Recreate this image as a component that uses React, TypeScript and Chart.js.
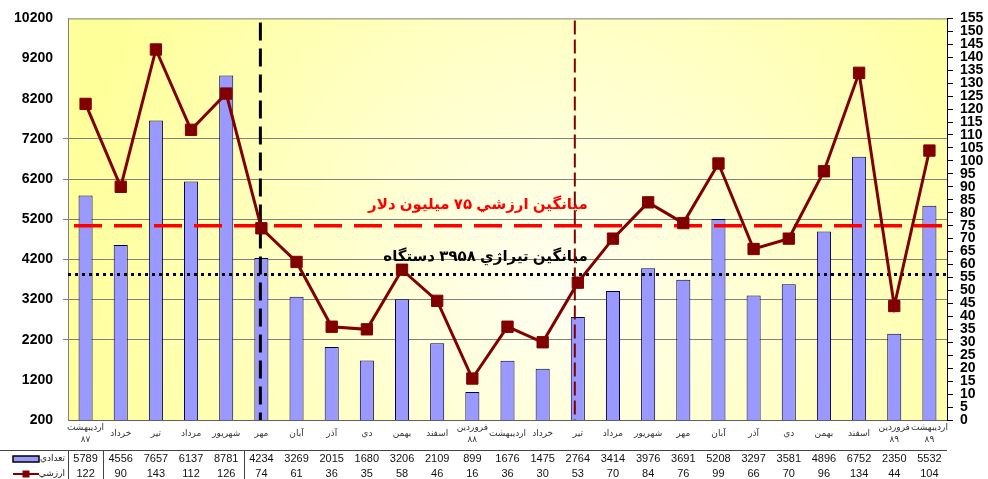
import React, { useEffect, useRef } from "react";
import { Chart, registerables } from "chart.js";
Chart.register(...registerables);

const monthLabels: (string | string[])[] = [
  ["اردیبهشت", "۸۷"], "خرداد", "تیر", "مرداد", "شهریور", "مهر", "آبان", "آذر", "دي", "بهمن", "اسفند",
  ["فروردین", "۸۸"], "اردیبهشت", "خرداد", "تیر", "مرداد", "شهریور", "مهر", "آبان", "آذر", "دي", "بهمن", "اسفند",
  ["فروردین", "۸۹"], ["اردیبهشت", "۸۹"],
];
const countValues = [5789, 4556, 7657, 6137, 8781, 4234, 3269, 2015, 1680, 3206, 2109, 899, 1676, 1475, 2764, 3414, 3976, 3691, 5208, 3297, 3581, 4896, 6752, 2350, 5532];
const valueValues = [122, 90, 143, 112, 126, 74, 61, 36, 35, 58, 46, 16, 36, 30, 53, 70, 84, 76, 99, 66, 70, 96, 134, 44, 104];
const countSeriesName = "تعدادي";
const valueSeriesName = "ارزشي";

const leftAxis = { min: 200, max: 10200, step: 1000 };
const rightAxis = { min: 0, max: 155, step: 5 };

const avgValueLine = 75;
const avgCountLine = 3825;
const avgValueText = "میانگین ارزشي ۷۵ میلیون دلار";
const avgCountText = "میانگین تیراژي ۳۹۵۸ دستگاه";
const blackMarkerIndex = 5;
const redMarkerIndex = 14;
const tableDividerIndices = [1, 5];

const FONT = "'Liberation Sans', Arial, 'DejaVu Sans', sans-serif";

export default function App() {
  const ref = useRef<HTMLCanvasElement>(null);
  useEffect(() => {
    document.body.style.margin = "0";
    const canvas = ref.current!;

    const bgPlugin = {
      id: "bgPlot",
      beforeDraw(chart: any) {
        const { ctx, chartArea: a, width, height } = chart;
        ctx.save();
        ctx.fillStyle = "#ffffff";
        ctx.fillRect(0, 0, width, height);
        const cx = a.left + a.width * 0.56;
        const cy = a.top + a.height * 0.68;
        const g = ctx.createRadialGradient(cx, cy, 0, cx, cy, a.width * 0.58);
        g.addColorStop(0, "#FFFFF2");
        g.addColorStop(0.35, "#FFFFD4");
        g.addColorStop(1, "#FFFF99");
        ctx.fillStyle = g;
        ctx.fillRect(a.left, a.top, a.width, a.height);
        ctx.strokeStyle = "#808080";
        ctx.lineWidth = 1;
        ctx.beginPath();
        ctx.moveTo(a.left + 0.5, a.bottom);
        ctx.lineTo(a.left + 0.5, a.top + 0.5);
        ctx.lineTo(a.right, a.top + 0.5);
        ctx.stroke();
        ctx.restore();
      },
    };

    const annotPlugin = {
      id: "annot",
      afterDatasetDraw(chart: any, args: any) {
        if (args.index !== 0) return;
        const { ctx, chartArea: a, scales } = chart;
        const xs = scales.x, ys = scales.y, y1 = scales.y1;
        ctx.save();
        ctx.beginPath();
        ctx.rect(a.left, a.top, a.width, a.height);
        ctx.clip();

        const ry = y1.getPixelForValue(avgValueLine);
        const by = ys.getPixelForValue(avgCountLine);
        const textRight = xs.getPixelForValue(redMarkerIndex) + 10;

        ctx.font = `bold 15px ${FONT}`;
        ctx.textAlign = "right";
        ctx.textBaseline = "middle";
        (ctx as any).direction = "rtl";
        ctx.fillStyle = "#FF0000";
        ctx.fillText(avgValueText, textRight, ry - 21);
        ctx.fillStyle = "#000000";
        ctx.fillText(avgCountText, textRight, by - 18);
        (ctx as any).direction = "ltr";

        ctx.lineCap = "butt";
        ctx.setLineDash([28, 12]);
        ctx.lineWidth = 3.5;
        ctx.strokeStyle = "#FF0000";
        ctx.beginPath();
        ctx.moveTo(a.left + 6, ry);
        ctx.lineTo(a.right - 4, ry);
        ctx.stroke();

        ctx.setLineDash([3, 4]);
        ctx.lineWidth = 3;
        ctx.strokeStyle = "#000000";
        ctx.beginPath();
        ctx.moveTo(a.left, by);
        ctx.lineTo(a.right, by);
        ctx.stroke();

        const vx = xs.getPixelForValue(blackMarkerIndex) - 1;
        ctx.setLineDash([18, 8]);
        ctx.lineWidth = 3;
        ctx.beginPath();
        ctx.moveTo(vx, a.top + 4);
        ctx.lineTo(vx, a.bottom);
        ctx.stroke();

        const rx = xs.getPixelForValue(redMarkerIndex) - 3;
        ctx.setLineDash([14, 5]);
        ctx.lineWidth = 2;
        ctx.strokeStyle = "#800000";
        ctx.beginPath();
        ctx.moveTo(rx, a.top + 2);
        ctx.lineTo(rx, a.bottom);
        ctx.stroke();
        ctx.restore();
      },
    };

    const tablePlugin = {
      id: "dataTable",
      afterDraw(chart: any) {
        const { ctx, chartArea: a, scales } = chart;
        const xs = scales.x;
        const row1 = 459, row2 = 474, top = 450;
        ctx.save();
        ctx.strokeStyle = "#444444";
        ctx.lineWidth = 1;
        ctx.beginPath();
        ctx.moveTo(0, top + 0.5);
        ctx.lineTo(a.right, top + 0.5);
        const bounds = [a.left, ...tableDividerIndices.map((i) => (xs.getPixelForValue(i - 1) + xs.getPixelForValue(i)) / 2)];
        bounds.forEach((bx) => {
          const px = Math.round(bx) + 0.5;
          ctx.moveTo(px, top);
          ctx.lineTo(px, 479);
        });
        ctx.stroke();

        ctx.font = `11px ${FONT}`;
        ctx.fillStyle = "#111111";
        ctx.textAlign = "center";
        ctx.textBaseline = "middle";
        countValues.forEach((v, i) => ctx.fillText(String(v), xs.getPixelForValue(i), row1));
        valueValues.forEach((v, i) => ctx.fillText(String(v), xs.getPixelForValue(i), row2));

        ctx.fillStyle = "#9999FF";
        ctx.fillRect(13, row1 - 3, 26, 6);
        ctx.strokeStyle = "#000000";
        ctx.lineWidth = 1.5;
        ctx.strokeRect(13, row1 - 3, 26, 6);
        ctx.strokeStyle = "#800000";
        ctx.lineWidth = 2;
        ctx.beginPath();
        ctx.moveTo(13, row2);
        ctx.lineTo(39, row2);
        ctx.stroke();
        ctx.fillStyle = "#800000";
        ctx.fillRect(22.5, row2 - 3.5, 7, 7);

        ctx.font = `9px ${FONT}`;
        ctx.fillStyle = "#222222";
        ctx.textAlign = "right";
        ctx.fillText(countSeriesName, 65, row1);
        ctx.fillText(valueSeriesName, 65, row2);
        ctx.restore();
      },
    };

    const chart = new Chart(canvas, {
      type: "bar",
      data: {
        labels: monthLabels as any,
        datasets: [
          {
            type: "bar",
            label: countSeriesName,
            data: countValues,
            backgroundColor: "#9999FF",
            borderColor: "#000040",
            borderWidth: 1,
            barPercentage: 0.4,
            categoryPercentage: 1,
            yAxisID: "y",
            order: 2,
          } as any,
          {
            type: "line",
            label: valueSeriesName,
            data: valueValues,
            borderColor: "#800000",
            borderWidth: 3,
            pointStyle: "rect",
            pointRadius: 8,
            pointBackgroundColor: "#800000",
            pointBorderColor: "#800000",
            pointBorderWidth: 1,
            tension: 0,
            yAxisID: "y1",
            order: 1,
          } as any,
        ],
      },
      options: {
        responsive: false,
        animation: false,
        layout: { padding: { top: 18, left: 0, right: 0, bottom: 0 } },
        plugins: { legend: { display: false }, tooltip: { enabled: false } },
        scales: {
          x: {
            type: "category",
            offset: true,
            grid: { display: false, drawTicks: false },
            border: { display: true, color: "#606060" },
            ticks: {
              font: { size: 9, family: FONT, lineHeight: 1.3 },
              color: "#333333",
              padding: 8,
              maxRotation: 0,
              autoSkip: false,
              crossAlign: "center",
            },
            afterFit: (s: any) => { s.height = 59; },
          },
          y: {
            position: "left",
            min: leftAxis.min,
            max: leftAxis.max,
            ticks: {
              stepSize: leftAxis.step,
              font: { size: 14, weight: "bold", family: FONT },
              color: "#000000",
              padding: 10,
              maxTicksLimit: 20,
              callback: (v: any) => String(v),
            },
            grid: {
              color: (c: any) => {
                const v = c.tick ? c.tick.value : 0;
                return v >= 2200 && v <= 7200 ? "#808080" : "rgba(0,0,0,0)";
              },
              tickLength: 5,
            },
            border: { display: true, color: "#808080" },
            afterFit: (s: any) => { s.width = 68; },
          },
          y1: {
            position: "right",
            min: rightAxis.min,
            max: rightAxis.max,
            ticks: {
              stepSize: rightAxis.step,
              font: { size: 14, weight: "bold", family: FONT, lineHeight: 1 },
              color: "#000000",
              padding: 7,
              autoSkip: false,
              maxTicksLimit: 40,
              callback: (v: any) => String(v),
            },
            grid: { drawOnChartArea: false, color: "#000000", tickLength: 6 },
            border: { display: true, color: "#000000" },
            afterFit: (s: any) => { s.width = 41; },
          },
        },
      } as any,
      plugins: [bgPlugin, annotPlugin, tablePlugin],
    });
    return () => chart.destroy();
  }, []);

  return (
    <div style={{ width: 988, height: 479 }}>
      <canvas ref={ref} width={988} height={479} style={{ display: "block" }} />
    </div>
  );
}
